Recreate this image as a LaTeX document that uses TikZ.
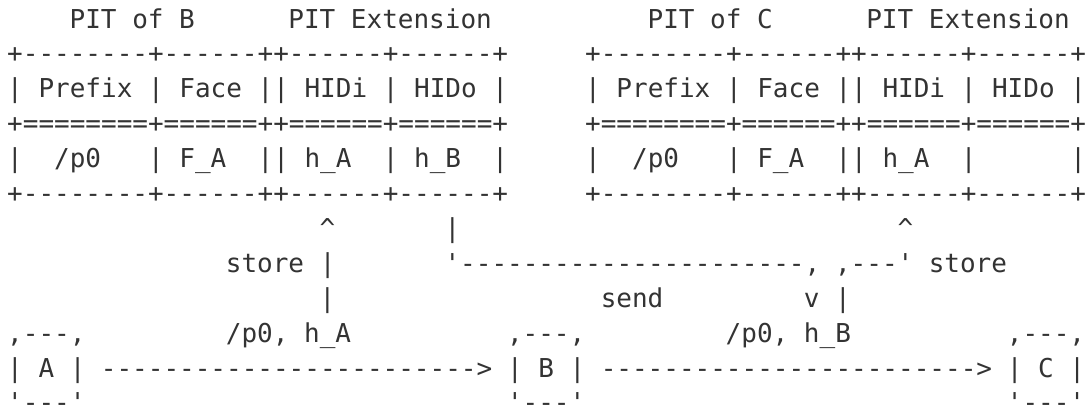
\documentclass[tikz,border=0pt]{standalone}
\usepackage{fontspec}
\setmonofont{DejaVu Sans Mono}
\definecolor{ink}{HTML}{333333}
\tikzset{asc/.style={anchor=base west, inner sep=0pt, outer sep=0pt, text=ink,
  font=\ttfamily\fontsize{13pt}{15pt}\selectfont}}
\newcommand\ascnode[4]{\node[asc] (#1) at ({7.2+15.62*#3},{28+34.9*(#2-1)}) {#4};}
\begin{document}
\begin{tikzpicture}[x=0.5pt,y=-0.5pt]
\fill[white] (0,0) rectangle (1089,418);
\useasboundingbox (0,0) rectangle (1089,418);
% row 1: titles
\ascnode{titleB}{1}{4}{PIT~of~B}
\ascnode{extB}{1}{18}{PIT~Extension}
\ascnode{titleC}{1}{41}{PIT~of~C}
\ascnode{extC}{1}{55}{PIT~Extension}
% table of B
\ascnode{tBtop}{2}{0}{+--------+------++------+------+}
\ascnode{tBhead}{3}{0}{|~Prefix~|~Face~||~HIDi~|~HIDo~|}
\ascnode{tBsep}{4}{0}{+========+======++======+======+}
\ascnode{tBrow}{5}{0}{|~~/p0~~~|~F\_A~~||~h\_A~~|~h\_B~~|}
\ascnode{tBbot}{6}{0}{+--------+------++------+------+}
% table of C
\ascnode{tCtop}{2}{37}{+--------+------++------+------+}
\ascnode{tChead}{3}{37}{|~Prefix~|~Face~||~HIDi~|~HIDo~|}
\ascnode{tCsep}{4}{37}{+========+======++======+======+}
\ascnode{tCrow}{5}{37}{|~~/p0~~~|~F\_A~~||~h\_A~~|~~~~~~|}
\ascnode{tCbot}{6}{37}{+--------+------++------+------+}
% row 7
\ascnode{upB}{7}{20}{\textasciicircum}
\ascnode{sendtop}{7}{28}{|}
\ascnode{upC}{7}{57}{\textasciicircum}
% row 8
\ascnode{storeB}{8}{14}{store~|}
\ascnode{sendrun}{8}{28}{'----------------------,}
\ascnode{storeCrun}{8}{53}{,---'}
\ascnode{storeC}{8}{59}{store}
% row 9
\ascnode{storeBbar}{9}{20}{|}
\ascnode{sendlbl}{9}{38}{send}
\ascnode{senddown}{9}{51}{v}
\ascnode{storeCbar}{9}{53}{|}
% row 10
\ascnode{Atop}{10}{0}{,---,}
\ascnode{msgAB}{10}{14}{/p0,~h\_A}
\ascnode{Btop}{10}{32}{,---,}
\ascnode{msgBC}{10}{46}{/p0,~h\_B}
\ascnode{Ctop}{10}{64}{,---,}
% row 11
\ascnode{Amid}{11}{0}{|~A~|}
\ascnode{arrAB}{11}{6}{------------------------>}
\ascnode{Bmid}{11}{32}{|~B~|}
\ascnode{arrBC}{11}{38}{------------------------>}
\ascnode{Cmid}{11}{64}{|~C~|}
% row 12
\ascnode{Abot}{12}{0}{'---'}
\ascnode{Bbot}{12}{32}{'---'}
\ascnode{Cbot}{12}{64}{'---'}
\end{tikzpicture}
\end{document}
